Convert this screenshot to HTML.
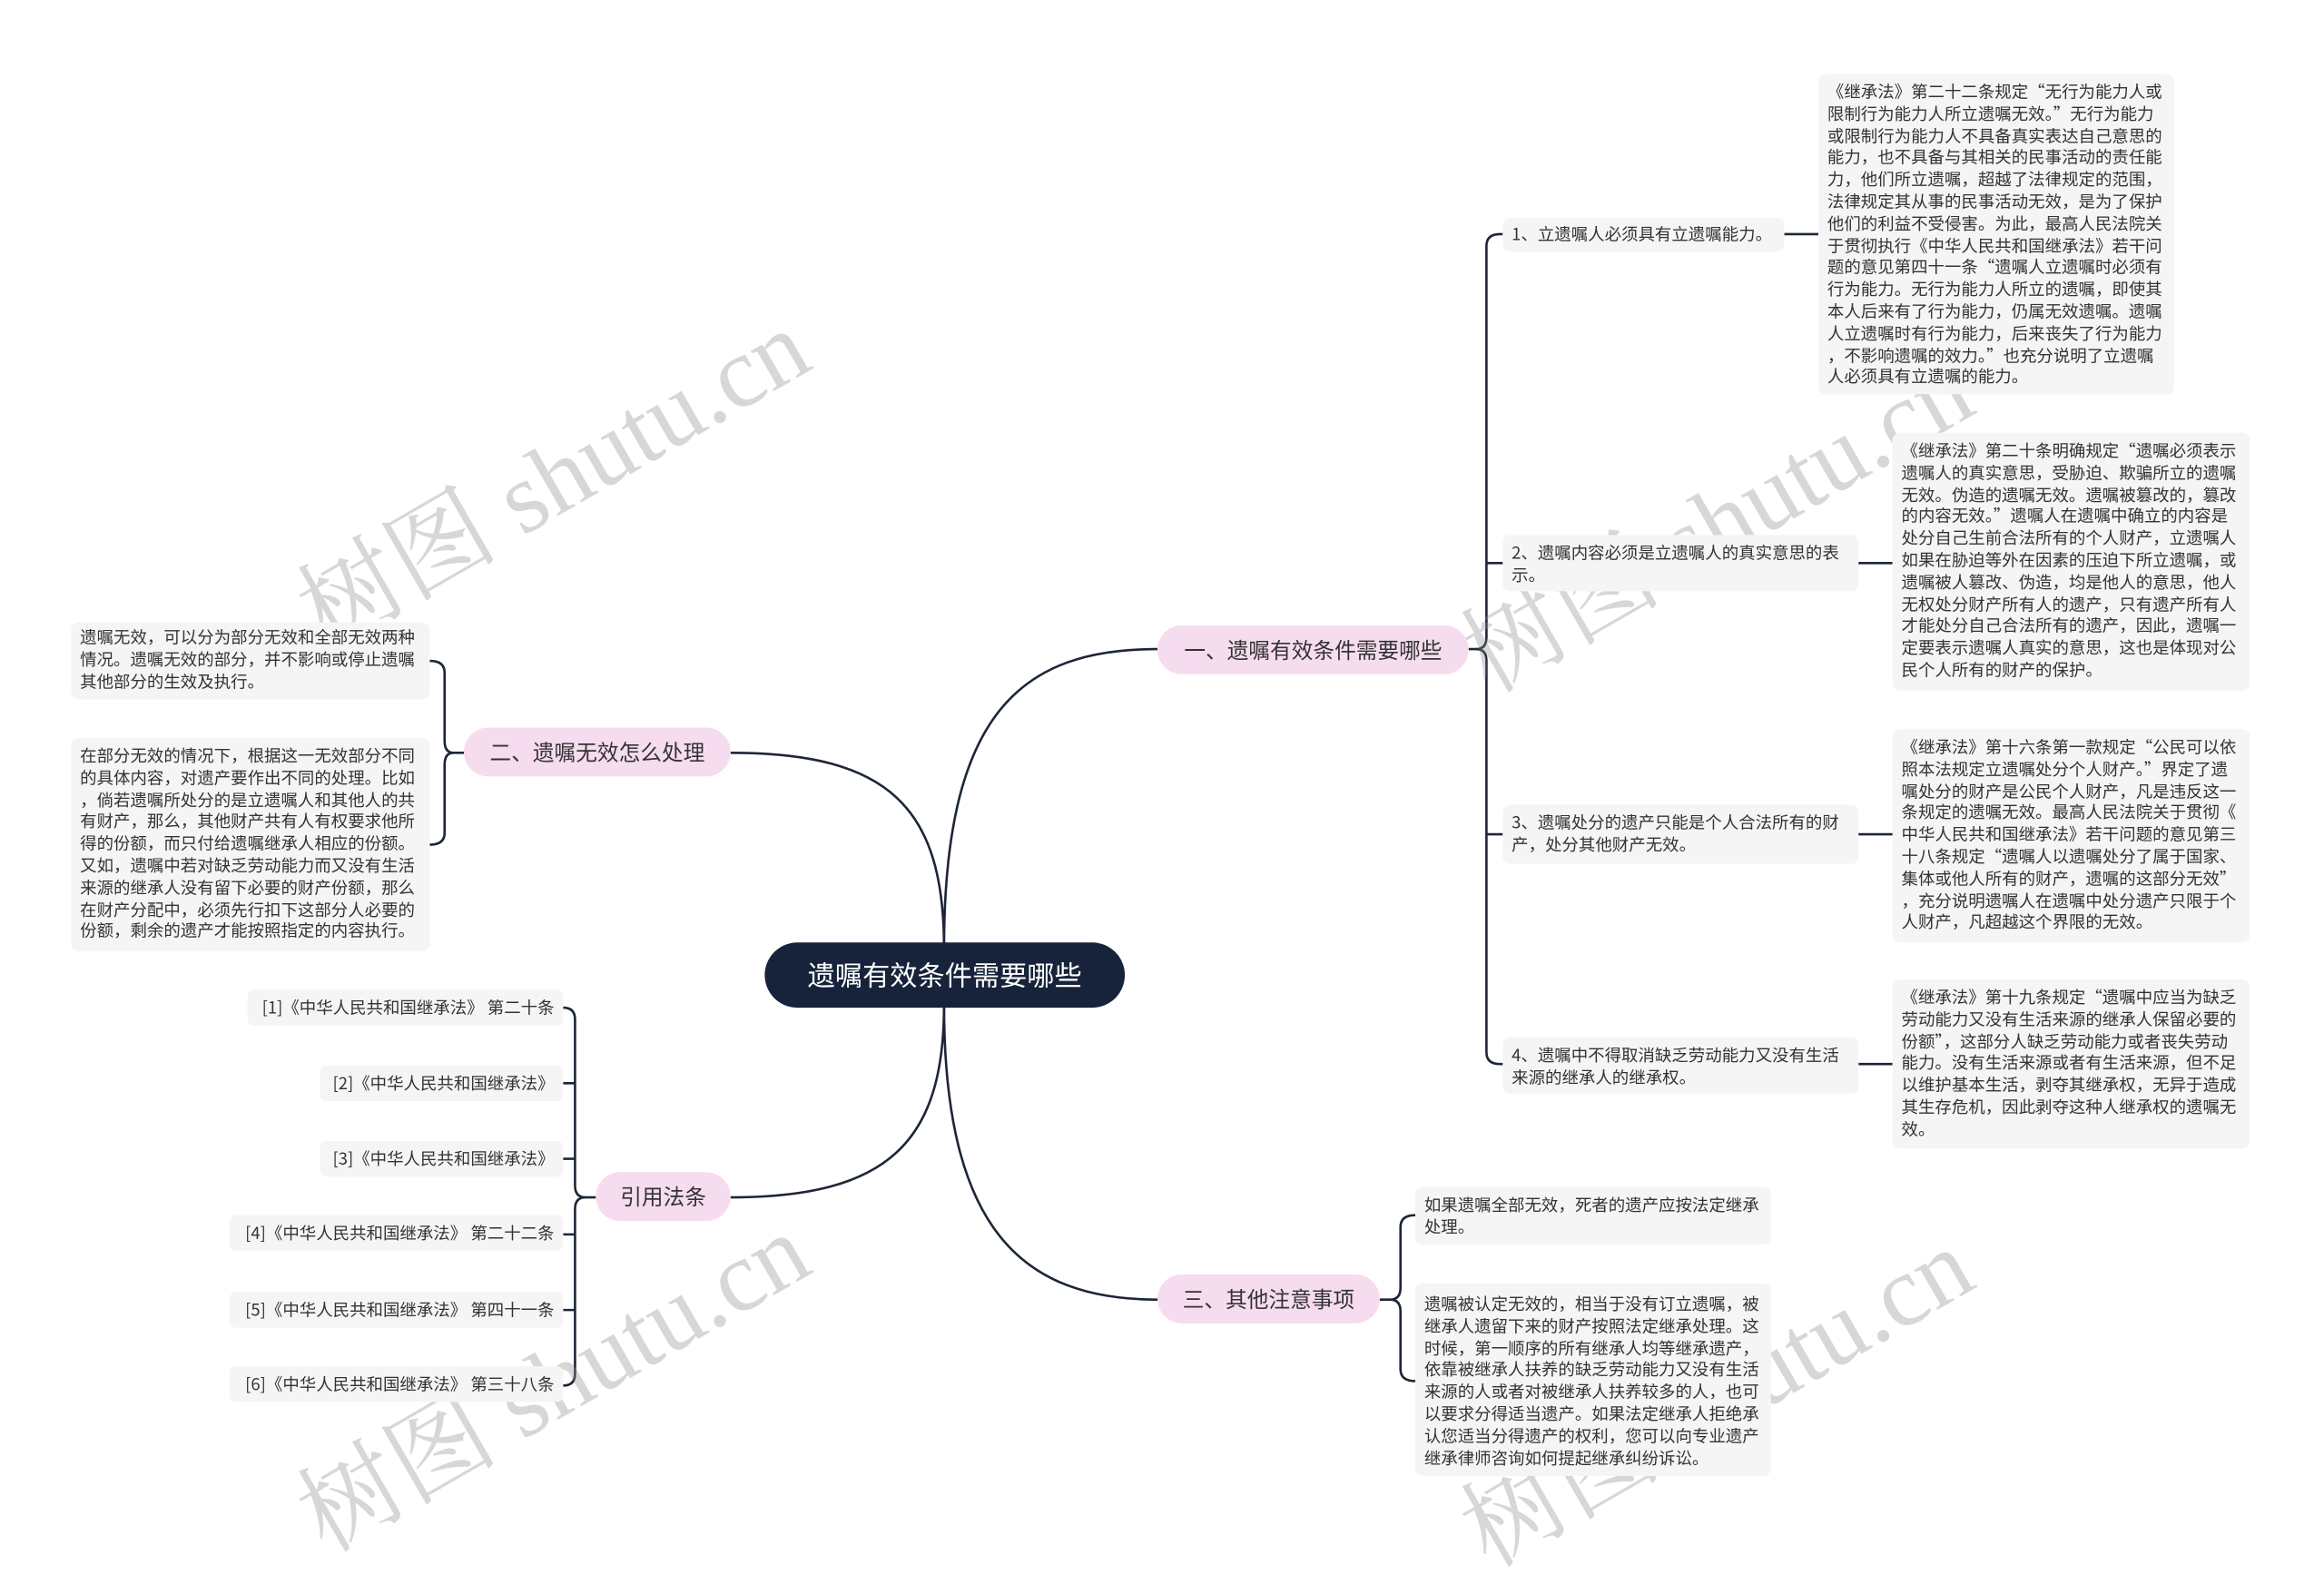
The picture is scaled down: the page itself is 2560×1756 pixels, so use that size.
<!DOCTYPE html>
<html><head><meta charset="utf-8">
<style>
html,body{margin:0;padding:0;background:#fff;width:2560px;height:1707px;overflow:hidden}
#c{position:absolute;left:0;top:0;width:1568px;height:1046px;transform:scale(1.6325);transform-origin:0 0;font-family:"Noto Sans CJK SC","Liberation Sans",sans-serif;color:#333}
.b{position:absolute;background:#f5f5f5;border-radius:5px;font-size:11.3px;line-height:14.8px;white-space:nowrap;box-sizing:border-box;padding:5px 6px}
.n{position:absolute;background:#f6dcef;border-radius:17px;font-size:14.5px;color:#333;display:flex;align-items:center;justify-content:center;white-space:nowrap}
.r{position:absolute;font-size:11.3px;background:#f5f5f5;border-radius:4px;white-space:nowrap;box-sizing:border-box;padding:0 6px;line-height:24px;text-align:right}
.w{position:absolute;font-family:"Liberation Serif","Noto Serif CJK SC",serif;font-size:68px;color:rgba(140,140,140,0.35);transform:rotate(-30deg);white-space:nowrap;transform-origin:center}
</style></head><body><div id="c">
<svg width="1568" height="1046" style="position:absolute;left:0;top:0" fill="none" stroke="#1c2636" stroke-width="1.6">
<path d="M637 640 C637 480 690 438 781 438"/>
<path d="M637 640 C637 545 600 508 493 508"/>
<path d="M637 678 C637 770 600 808 493 808"/>
<path d="M637 678 C637 830 690 877 781 877"/>
<path d="M991 438 H996 Q1003 438 1003 430 V166 Q1003 158 1012 158 H1014"/>
<path d="M996 438 Q1003 438 1003 446 V710 Q1003 718 1012 718 H1014"/>
<path d="M1003 380 H1014 M1003 563 H1014"/>
<path d="M1204 158 H1227 M1254 380 H1277 M1254 563 H1277 M1254 718 H1277"/>
<path d="M931 877 H938 Q945 877 945 869 V828 Q945 820 955 820"/>
<path d="M938 877 Q945 877 945 885 V924 Q945 932 955 932"/>
<path d="M313 508 H306 Q300 508 300 500 V454 Q300 446 290 446"/>
<path d="M306 508 Q300 508 300 516 V562 Q300 570 290 570"/>
<path d="M402 808 H395 Q388 808 388 800 V688 Q388 680 380 680"/>
<path d="M395 808 Q388 808 388 816 V927 Q388 935 380 935"/>
<path d="M388 731 H380 M388 782 H380 M388 833 H380 M388 884 H380"/>
</svg>
<div class="w" style="left:180px;top:270px">树图 shutu.cn</div>
<div class="w" style="left:965px;top:300px">树图 shutu.cn</div>
<div class="w" style="left:180px;top:880px">树图 shutu.cn</div>
<div class="w" style="left:965px;top:890px">树图 shutu.cn</div>

<div style="position:absolute;left:516px;top:636px;width:243px;height:44px;background:#17233a;border-radius:22px;color:#fff;font-size:18.5px;display:flex;align-items:center;justify-content:center">遗嘱有效条件需要哪些</div>
<div class="n" style="left:781px;top:422px;width:210px;height:33px">一、遗嘱有效条件需要哪些</div>
<div class="n" style="left:313px;top:491px;width:180px;height:33px">二、遗嘱无效怎么处理</div>
<div class="n" style="left:402px;top:791px;width:91px;height:33px">引用法条</div>
<div class="n" style="left:781px;top:860px;width:150px;height:33px">三、其他注意事项</div>

<div class="b" style="left:1014px;top:147px;width:190px;height:23px;padding-top:4px">1、立遗嘱人必须具有立遗嘱能力。</div>
<div class="b" style="left:1014px;top:361px;width:240px;height:38px">2、遗嘱内容必须是立遗嘱人的真实意思的表<br>示。</div>
<div class="b" style="left:1014px;top:543px;width:240px;height:40px">3、遗嘱处分的遗产只能是个人合法所有的财<br>产，处分其他财产无效。</div>
<div class="b" style="left:1014px;top:700px;width:240px;height:38px">4、遗嘱中不得取消缺乏劳动能力又没有生活<br>来源的继承人的继承权。</div>

<div class="b" style="left:1227px;top:50px;width:240px;height:216px;padding-top:5px">《继承法》第二十二条规定“无行为能力人或<br>限制行为能力人所立遗嘱无效。”无行为能力<br>或限制行为能力人不具备真实表达自己意思的<br>能力，也不具备与其相关的民事活动的责任能<br>力，他们所立遗嘱，超越了法律规定的范围，<br>法律规定其从事的民事活动无效，是为了保护<br>他们的利益不受侵害。为此，最高人民法院关<br>于贯彻执行《中华人民共和国继承法》若干问<br>题的意见第四十一条“遗嘱人立遗嘱时必须有<br>行为能力。无行为能力人所立的遗嘱，即使其<br>本人后来有了行为能力，仍属无效遗嘱。遗嘱<br>人立遗嘱时有行为能力，后来丧失了行为能力<br>，不影响遗嘱的效力。”也充分说明了立遗嘱<br>人必须具有立遗嘱的能力。</div>
<div class="b" style="left:1277px;top:292px;width:241px;height:174px">《继承法》第二十条明确规定“遗嘱必须表示<br>遗嘱人的真实意思，受胁迫、欺骗所立的遗嘱<br>无效。伪造的遗嘱无效。遗嘱被篡改的，篡改<br>的内容无效。”遗嘱人在遗嘱中确立的内容是<br>处分自己生前合法所有的个人财产，立遗嘱人<br>如果在胁迫等外在因素的压迫下所立遗嘱，或<br>遗嘱被人篡改、伪造，均是他人的意思，他人<br>无权处分财产所有人的遗产，只有遗产所有人<br>才能处分自己合法所有的遗产，因此，遗嘱一<br>定要表示遗嘱人真实的意思，这也是体现对公<br>民个人所有的财产的保护。</div>
<div class="b" style="left:1277px;top:492px;width:241px;height:144px">《继承法》第十六条第一款规定“公民可以依<br>照本法规定立遗嘱处分个人财产。”界定了遗<br>嘱处分的财产是公民个人财产，凡是违反这一<br>条规定的遗嘱无效。最高人民法院关于贯彻《<br>中华人民共和国继承法》若干问题的意见第三<br>十八条规定“遗嘱人以遗嘱处分了属于国家、<br>集体或他人所有的财产，遗嘱的这部分无效”<br>，充分说明遗嘱人在遗嘱中处分遗产只限于个<br>人财产，凡超越这个界限的无效。</div>
<div class="b" style="left:1277px;top:661px;width:241px;height:114px">《继承法》第十九条规定“遗嘱中应当为缺乏<br>劳动能力又没有生活来源的继承人保留必要的<br>份额”，这部分人缺乏劳动能力或者丧失劳动<br>能力。没有生活来源或者有生活来源，但不足<br>以维护基本生活，剥夺其继承权，无异于造成<br>其生存危机，因此剥夺这种人继承权的遗嘱无<br>效。</div>

<div class="b" style="left:955px;top:801px;width:240px;height:39px">如果遗嘱全部无效，死者的遗产应按法定继承<br>处理。</div>
<div class="b" style="left:955px;top:866px;width:240px;height:130px;padding-top:7px">遗嘱被认定无效的，相当于没有订立遗嘱，被<br>继承人遗留下来的财产按照法定继承处理。这<br>时候，第一顺序的所有继承人均等继承遗产，<br>依靠被继承人扶养的缺乏劳动能力又没有生活<br>来源的人或者对被继承人扶养较多的人，也可<br>以要求分得适当遗产。如果法定继承人拒绝承<br>认您适当分得遗产的权利，您可以向专业遗产<br>继承律师咨询如何提起继承纠纷诉讼。</div>

<div class="b" style="left:48px;top:420px;width:242px;height:52px;padding-top:3px">遗嘱无效，可以分为部分无效和全部无效两种<br>情况。遗嘱无效的部分，并不影响或停止遗嘱<br>其他部分的生效及执行。</div>
<div class="b" style="left:48px;top:498px;width:242px;height:144px;padding-top:5px">在部分无效的情况下，根据这一无效部分不同<br>的具体内容，对遗产要作出不同的处理。比如<br>，倘若遗嘱所处分的是立遗嘱人和其他人的共<br>有财产，那么，其他财产共有人有权要求他所<br>得的份额，而只付给遗嘱继承人相应的份额。<br>又如，遗嘱中若对缺乏劳动能力而又没有生活<br>来源的继承人没有留下必要的财产份额，那么<br>在财产分配中，必须先行扣下这部分人必要的<br>份额，剩余的遗产才能按照指定的内容执行。</div>

<div class="r" style="left:167px;top:668px;width:213px">[1]《中华人民共和国继承法》 第二十条</div>
<div class="r" style="left:216px;top:719px;width:164px">[2]《中华人民共和国继承法》</div>
<div class="r" style="left:216px;top:770px;width:164px">[3]《中华人民共和国继承法》</div>
<div class="r" style="left:155px;top:820px;width:225px">[4]《中华人民共和国继承法》 第二十二条</div>
<div class="r" style="left:155px;top:872px;width:225px">[5]《中华人民共和国继承法》 第四十一条</div>
<div class="r" style="left:155px;top:922px;width:225px">[6]《中华人民共和国继承法》 第三十八条</div>
</div></body></html>
